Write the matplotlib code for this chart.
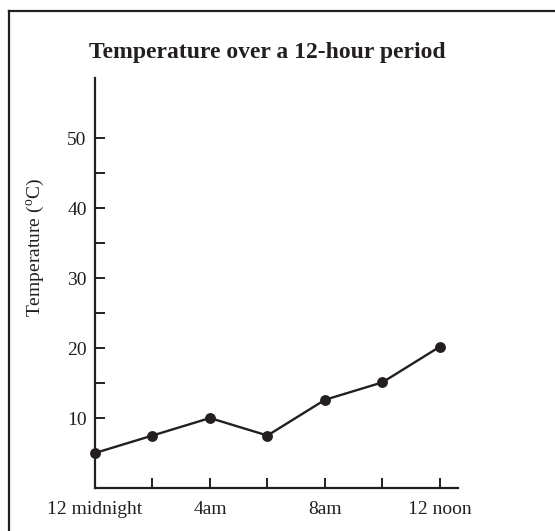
import matplotlib
matplotlib.use("Agg")
import matplotlib.pyplot as plt
from matplotlib.lines import Line2D

# Hourly readings (hours after midnight) and temperatures in degrees C
hours = [0, 2, 4, 6, 8, 10, 12]
temps = [5, 7.5, 10, 7.5, 12.6, 15.1, 20.2]

xtick_pos = [0, 2, 4, 6, 8, 10, 12]
xtick_labels = ["12 midnight", "", "4am", "", "8am", "", "12 noon"]
ytick_pos = [10, 15, 20, 25, 30, 35, 40, 45, 50]
ytick_labels = ["10", "", "20", "", "30", "", "40", "", "50"]

ink = "#231f20"
serif = "Liberation Serif"
plt.rcParams["font.family"] = serif
plt.rcParams["mathtext.fontset"] = "custom"
plt.rcParams["mathtext.rm"] = serif

fig = plt.figure(figsize=(5.55, 5.31), dpi=100)
ax = fig.add_axes([95 / 555, 1 - 488 / 531, (458 - 95) / 555, (488 - 78) / 531])

ax.plot(hours, temps, color=ink, lw=1.7, marker="o", ms=6.8,
        mfc=ink, mec=ink, clip_on=False, zorder=3)

ax.set_xlim(0, 12.63)
ax.set_ylim(0, 58.6)
ax.set_xticks(xtick_pos)
ax.set_xticklabels(xtick_labels)
ax.set_yticks(ytick_pos)
ax.set_yticklabels(ytick_labels)

for side in ("top", "right"):
    ax.spines[side].set_visible(False)
for side in ("left", "bottom"):
    ax.spines[side].set_color(ink)
    ax.spines[side].set_linewidth(1.6)

ax.tick_params(axis="both", direction="in", length=7, width=1.4,
               color=ink, labelcolor=ink, labelsize=14)
ax.tick_params(axis="x", pad=9)
ax.tick_params(axis="y", pad=6)

ax.set_ylabel(r"Temperature ($^{\rm o}$C)", fontsize=14, color=ink)
ax.yaxis.set_label_coords(47 / 555, 1 - 247 / 531, transform=fig.transFigure)

fig.text(267 / 555, 1 - 58 / 531, "Temperature over a 12-hour period",
         ha="center", va="baseline", fontsize=17, fontweight="bold", color=ink)

# Open frame: left and top rules only
fig.add_artist(Line2D([9 / 555, 9 / 555], [0, 1 - 11 / 531], transform=fig.transFigure,
                      color=ink, lw=1.6, solid_capstyle="projecting"))
fig.add_artist(Line2D([9 / 555, 1], [1 - 11 / 531, 1 - 11 / 531], transform=fig.transFigure,
                      color=ink, lw=1.6, solid_capstyle="projecting"))

fig.savefig("out.png", dpi=100, facecolor="white")
